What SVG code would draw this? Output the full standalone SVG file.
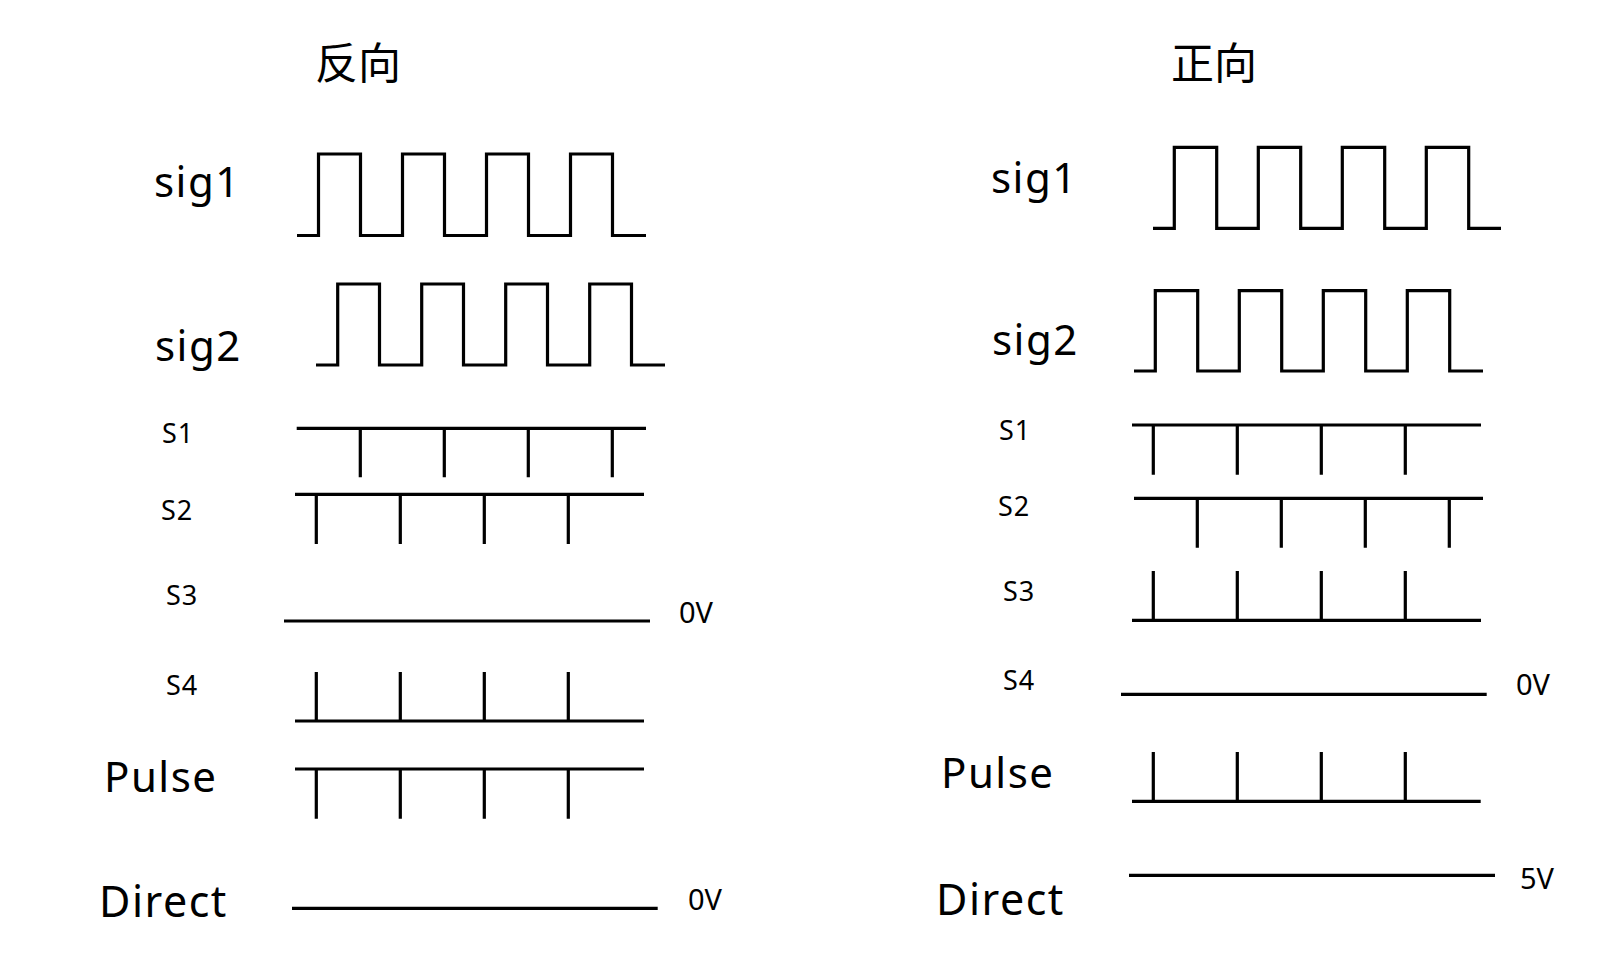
<svg xmlns="http://www.w3.org/2000/svg" width="1597" height="959" viewBox="0 0 1597 959">
<style>
.w{fill:none;stroke:#000;stroke-width:3.2;stroke-linejoin:miter}
.t{font-family:"Noto Sans","Open Sans","Liberation Sans",sans-serif;fill:#000}
.big{font-size:42px;letter-spacing:1.5px}
.dir{font-size:43px;letter-spacing:1.5px}
.s{font-size:27px;letter-spacing:1px}
.v{font-size:29px}
.cjk{font-family:"Noto Sans CJK SC","Noto Sans",sans-serif;font-size:43px;fill:#000}
</style>
<rect width="1597" height="959" fill="#fff"/>
<g id="titles">
<text class="cjk" x="315" y="79">反向</text>
<text class="cjk" x="1171" y="79">正向</text>
</g>
<g id="left-sig1">
<text class="t big" x="154" y="197">sig1</text>
<path class="w" d="M297,235.5H318.5V154H360.5V235.5H402.5V154H444.5V235.5H486.5V154H528.5V235.5H570.5V154H612.5V235.5H646"/>
</g>
<g id="left-sig2">
<text class="t big" x="155" y="361">sig2</text>
<path class="w" d="M316,365H337.7V284H379.5V365H421.7V284H463.5V365H505.7V284H547.5V365H589.7V284H631.5V365H665"/>
</g>
<g id="left-s1">
<text class="t s" x="162" y="443">S1</text>
<path class="w" d="M296.7,428.3H646M360.3,428.3V477.3M444.3,428.3V477.3M528.3,428.3V477.3M612.3,428.3V477.3"/>
</g>
<g id="left-s2">
<text class="t s" x="161" y="520">S2</text>
<path class="w" d="M295,494.3H644M316.3,494.3V544M400.3,494.3V544M484.3,494.3V544M568.3,494.3V544"/>
</g>
<g id="left-s3">
<text class="t s" x="166" y="605">S3</text>
<path class="w" d="M284,621H650"/>
<text class="t v" x="679" y="623">0V</text>
</g>
<g id="left-s4">
<text class="t s" x="166" y="695">S4</text>
<path class="w" d="M295,721H644M316.3,672V721M400.3,672V721M484.3,672V721M568.3,672V721"/>
</g>
<g id="left-pulse">
<text class="t big" x="104" y="792">Pulse</text>
<path class="w" d="M295,769H644M316.3,769V818.7M400.3,769V818.7M484.3,769V818.7M568.3,769V818.7"/>
</g>
<g id="left-direct">
<text class="t dir" x="99" y="917">Direct</text>
<path class="w" d="M292,908.3H657.7"/>
<text class="t v" x="688" y="910">0V</text>
</g>
<g id="right-sig1">
<text class="t big" x="991" y="193">sig1</text>
<path class="w" d="M1153,228.3H1174.3V147.3H1216.7V228.3H1258.3V147.3H1300.7V228.3H1342.3V147.3H1384.7V228.3H1426.3V147.3H1468.7V228.3H1501"/>
</g>
<g id="right-sig2">
<text class="t big" x="992" y="355">sig2</text>
<path class="w" d="M1134,371H1155.3V290.7H1197.7V371H1239.3V290.7H1281.7V371H1323.3V290.7H1365.7V371H1407.3V290.7H1449.7V371H1483"/>
</g>
<g id="right-s1">
<text class="t s" x="999" y="440">S1</text>
<path class="w" d="M1132,425H1481M1153.3,425V474.7M1237.3,425V474.7M1321.3,425V474.7M1405.3,425V474.7"/>
</g>
<g id="right-s2">
<text class="t s" x="998" y="516">S2</text>
<path class="w" d="M1134,498.3H1483M1197.3,498.3V547.7M1281.3,498.3V547.7M1365.3,498.3V547.7M1449.3,498.3V547.7"/>
</g>
<g id="right-s3">
<text class="t s" x="1003" y="601">S3</text>
<path class="w" d="M1132,620.3H1481M1153.3,571V620.3M1237.3,571V620.3M1321.3,571V620.3M1405.3,571V620.3"/>
</g>
<g id="right-s4">
<text class="t s" x="1003" y="690">S4</text>
<path class="w" d="M1121,694.3H1486.7"/>
<text class="t v" x="1516" y="695">0V</text>
</g>
<g id="right-pulse">
<text class="t big" x="941" y="788">Pulse</text>
<path class="w" d="M1132,801.3H1480.7M1153.3,752V801.3M1237.3,752V801.3M1321.3,752V801.3M1405.3,752V801.3"/>
</g>
<g id="right-direct">
<text class="t dir" x="936" y="915">Direct</text>
<path class="w" d="M1129,875.3H1495"/>
<text class="t v" x="1520" y="889">5V</text>
</g>
</svg>
